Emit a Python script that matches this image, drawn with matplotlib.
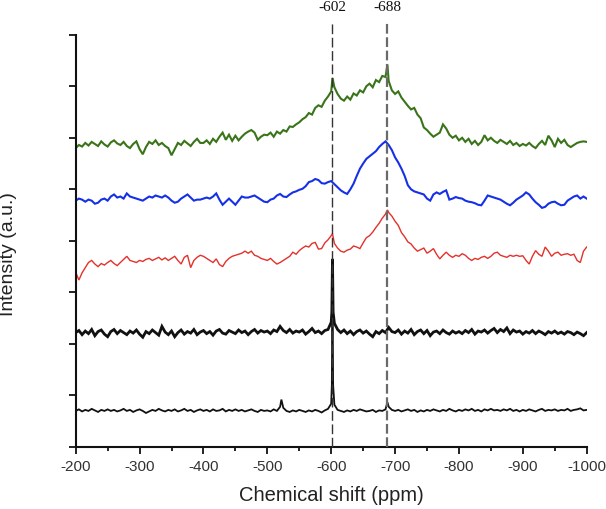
import numpy as np
import matplotlib
matplotlib.use("Agg")
import matplotlib.pyplot as plt
from matplotlib.ticker import MultipleLocator, FixedLocator, NullFormatter
import matplotlib.transforms as mtransforms

plt.rcParams['axes.unicode_minus'] = False
plt.rcParams['font.family'] = ['Liberation Sans', 'DejaVu Sans']

# ---------------- data ----------------
# common chemical-shift grid (ppm), 5 ppm step from -200 to -1000
shift = np.arange(-200, -1001, -5)

green = [
    5.80, 5.86, 5.83, 5.90, 5.85, 5.92, 5.88, 5.84, 5.93, 5.87,
    5.83, 5.91, 5.95, 5.89, 5.86, 5.92, 5.84, 5.80, 5.88, 5.93,
    5.78, 5.68, 5.82, 5.92, 5.88, 5.95, 5.86, 5.90, 5.84, 5.80,
    5.66, 5.78, 5.90, 5.86, 5.94, 5.89, 5.84, 5.92, 5.98, 5.90,
    5.90, 5.95, 5.88, 5.98, 5.92, 6.02, 6.10, 5.96, 6.06, 5.94,
    6.04, 5.95, 6.02, 6.08, 6.12, 6.15, 6.10, 5.96, 6.02, 6.06,
    6.05, 6.10, 6.02, 6.12, 6.08, 6.15, 6.12, 6.22, 6.21, 6.26,
    6.30, 6.36, 6.40, 6.48, 6.45, 6.58, 6.63, 6.60, 6.72, 6.80,
    6.90, 6.98, 6.85, 6.76, 6.72, 6.80, 6.74, 6.86, 6.82, 6.92,
    6.88, 7.00, 7.05, 6.98, 7.12, 7.08, 7.20, 7.18, 7.10, 6.92,
    6.85, 6.90, 6.78, 6.70, 6.62, 6.55, 6.58, 6.45, 6.38, 6.20,
    6.15, 6.08, 6.02, 6.06, 6.10, 6.26, 6.18, 6.06, 6.00, 6.04,
    5.95, 6.00, 5.92, 5.98, 5.88, 5.94, 5.86, 5.92, 6.05, 5.95,
    6.00, 5.94, 5.90, 5.96, 5.92, 5.88, 5.94, 5.86, 5.90, 5.84,
    5.88, 5.85, 5.90, 5.84, 5.80, 5.88, 5.94, 5.86, 6.04, 5.95,
    5.82, 5.98, 5.90, 5.96, 5.86, 5.82, 5.86, 5.90, 5.92, 5.93,
    5.92,
]
green_peak_x = [-602, -688]
green_peak_y = [7.16, 7.42]

blue = [
    4.78, 4.82, 4.80, 4.76, 4.80, 4.78, 4.72, 4.74, 4.80, 4.82,
    4.78, 4.86, 4.90, 4.84, 4.86, 4.82, 4.92, 4.86, 4.84, 4.82,
    4.80, 4.78, 4.82, 4.86, 4.84, 4.88, 4.86, 4.84, 4.88, 4.84,
    4.78, 4.74, 4.76, 4.82, 4.86, 4.90, 4.84, 4.78, 4.80, 4.80,
    4.82, 4.84, 4.82, 4.86, 4.92, 4.80, 4.70, 4.76, 4.82, 4.76,
    4.70, 4.78, 4.86, 4.84, 4.84, 4.86, 4.88, 4.84, 4.80, 4.76,
    4.75, 4.80, 4.82, 4.88, 4.91, 4.86, 4.85, 4.90, 4.94, 4.96,
    4.99, 5.01, 5.06, 5.14, 5.16, 5.20, 5.18, 5.12, 5.11, 5.14,
    5.16, 5.10, 5.04, 4.98, 4.94, 4.91, 5.00, 5.11, 5.26, 5.40,
    5.50, 5.59, 5.64, 5.69, 5.74, 5.82, 5.88, 5.93, 5.86, 5.76,
    5.62, 5.52, 5.40, 5.26, 5.08, 5.00, 4.96, 4.94, 4.92, 4.90,
    4.82, 4.78, 4.90, 4.94, 4.91, 4.95, 4.98, 4.80, 4.82, 4.85,
    4.83, 4.82, 4.78, 4.76, 4.75, 4.73, 4.70, 4.69, 4.78, 4.88,
    4.86, 4.84, 4.82, 4.80, 4.76, 4.72, 4.69, 4.74, 4.80, 4.84,
    4.88, 4.94, 4.90, 4.82, 4.75, 4.70, 4.64, 4.66, 4.72, 4.75,
    4.76, 4.72, 4.69, 4.70, 4.78, 4.82, 4.86, 4.88, 4.82, 4.86,
    4.82,
]

red = [
    3.39, 3.24, 3.38, 3.48, 3.58, 3.62, 3.55, 3.50, 3.56, 3.53,
    3.58, 3.62, 3.56, 3.52, 3.58, 3.64, 3.70, 3.62, 3.60, 3.58,
    3.62, 3.60, 3.64, 3.66, 3.62, 3.65, 3.68, 3.63, 3.67, 3.62,
    3.66, 3.70, 3.62, 3.55, 3.68, 3.72, 3.48, 3.62, 3.68, 3.72,
    3.70, 3.66, 3.62, 3.58, 3.65, 3.54, 3.50, 3.60, 3.66, 3.70,
    3.72, 3.74, 3.76, 3.80, 3.76, 3.80, 3.72, 3.70, 3.66, 3.64,
    3.62, 3.66, 3.60, 3.55, 3.58, 3.62, 3.66, 3.70, 3.78, 3.74,
    3.81, 3.86, 3.90, 3.88, 3.95, 3.97, 3.84, 3.85, 3.96, 4.02,
    4.10, 3.95, 3.86, 3.80, 3.78, 3.82, 3.84, 3.90, 3.88, 3.85,
    3.96, 4.06, 4.10, 4.17, 4.26, 4.34, 4.44, 4.52, 4.55, 4.48,
    4.38, 4.30, 4.16, 4.08, 3.98, 3.94, 3.86, 3.80, 3.83, 3.86,
    3.76, 3.80, 3.85, 3.74, 3.65, 3.72, 3.78, 3.72, 3.68, 3.72,
    3.70, 3.75, 3.72, 3.66, 3.62, 3.66, 3.64, 3.68, 3.70, 3.66,
    3.70, 3.76, 3.78, 3.72, 3.70, 3.68, 3.72, 3.70, 3.72, 3.70,
    3.71, 3.62, 3.55, 3.70, 3.81, 3.74, 3.70, 3.88, 3.80, 3.70,
    3.76, 3.78, 3.72, 3.74, 3.75, 3.72, 3.74, 3.62, 3.58, 3.80,
    3.88,
]
red_peak_x = [-602, -688]
red_peak_y = [4.14, 4.60]

black_upper = [
    2.22, 2.26, 2.18, 2.25, 2.20, 2.28, 2.16, 2.24, 2.27, 2.19,
    2.14, 2.24, 2.28, 2.20, 2.26, 2.22, 2.18, 2.25, 2.21, 2.27,
    2.19, 2.13, 2.24, 2.20, 2.27, 2.22, 2.17, 2.34, 2.23, 2.18,
    2.25, 2.14, 2.22, 2.27, 2.19, 2.24, 2.21, 2.28, 2.18, 2.23,
    2.26, 2.20, 2.24, 2.17, 2.25, 2.28, 2.21, 2.19, 2.26, 2.23,
    2.20, 2.27, 2.22, 2.25, 2.18, 2.24, 2.28, 2.21, 2.26, 2.23,
    2.25, 2.20, 2.27, 2.24, 2.34, 2.26, 2.22, 2.28, 2.21, 2.25,
    2.23, 2.27, 2.19, 2.24, 2.30, 2.22, 2.25, 2.20, 2.26, 2.28,
    2.42, 2.40, 2.28, 2.22, 2.27, 2.20, 2.25, 2.18, 2.24, 2.27,
    2.21, 2.25, 2.19, 2.14, 2.24, 2.20, 2.26, 2.22, 2.32, 2.24,
    2.22, 2.27, 2.19, 2.25, 2.21, 2.28, 2.18, 2.24, 2.27, 2.20,
    2.26, 2.16, 2.23, 2.25, 2.20, 2.27, 2.22, 2.19, 2.25, 2.21,
    2.24, 2.20, 2.26, 2.22, 2.28, 2.19, 2.25, 2.23, 2.27, 2.21,
    2.26, 2.30, 2.22, 2.28, 2.24, 2.31, 2.20, 2.27, 2.23, 2.25,
    2.19, 2.24, 2.21, 2.26, 2.20, 2.25, 2.22, 2.18, 2.24, 2.21,
    2.25, 2.20, 2.23, 2.19, 2.24, 2.22, 2.18, 2.23, 2.20, 2.16,
    2.22,
]
black_upper_peak_x = [-601, -602, -603]
black_upper_peak_y = [2.62, 3.65, 2.62]

black_lower = [
    0.70, 0.73, 0.69, 0.72, 0.70, 0.74, 0.71, 0.68, 0.72, 0.70,
    0.73, 0.70, 0.72, 0.69, 0.71, 0.74, 0.70, 0.72, 0.68, 0.71,
    0.73, 0.70, 0.66, 0.69, 0.72, 0.70, 0.74, 0.71, 0.69, 0.72,
    0.70, 0.73, 0.69, 0.71, 0.74, 0.70, 0.72, 0.68, 0.71, 0.73,
    0.70, 0.72, 0.69, 0.73, 0.70, 0.71, 0.74, 0.69, 0.72, 0.70,
    0.73, 0.70, 0.72, 0.69, 0.71, 0.73, 0.70, 0.68, 0.72, 0.70,
    0.71, 0.69, 0.73, 0.70, 0.78, 0.76, 0.70, 0.68, 0.71, 0.69,
    0.72, 0.70, 0.68, 0.71, 0.69, 0.72, 0.70, 0.67, 0.71, 0.74,
    0.84, 0.82, 0.72, 0.70, 0.68, 0.71, 0.69, 0.72, 0.70, 0.73,
    0.71, 0.69, 0.70, 0.72, 0.68, 0.71, 0.70, 0.73, 0.78, 0.72,
    0.70, 0.72, 0.69, 0.71, 0.73, 0.70, 0.72, 0.68, 0.71, 0.69,
    0.72, 0.70, 0.73, 0.71, 0.69, 0.72, 0.70, 0.74, 0.71, 0.69,
    0.72, 0.70, 0.73, 0.71, 0.74, 0.70, 0.72, 0.69, 0.73, 0.71,
    0.74, 0.71, 0.72, 0.70, 0.73, 0.71, 0.74, 0.70, 0.72, 0.69,
    0.72, 0.70, 0.73, 0.71, 0.69, 0.72, 0.74, 0.70, 0.72, 0.71,
    0.73, 0.70, 0.72, 0.71, 0.74, 0.70, 0.72, 0.73, 0.75, 0.71,
    0.72,
]
black_lower_peak_x = [-522, -601, -602, -603, -688]
black_lower_peak_y = [0.92, 1.20, 3.20, 1.20, 0.87]

marker_shifts = [-602, -688]
marker_labels = ["-602", "-688"]

x_ticks = [-200, -300, -400, -500, -600, -700, -800, -900, -1000]


def merged(base_y, extra_x=(), extra_y=()):
    xs = np.concatenate([shift, np.asarray(extra_x, dtype=float)])
    ys = np.concatenate([np.asarray(base_y, dtype=float), np.asarray(extra_y, dtype=float)])
    order = np.argsort(-xs)
    return xs[order], ys[order]


# ---------------- figure ----------------
fig = plt.figure(figsize=(6.06, 5.10), dpi=100)
ax = fig.add_axes([75.7 / 606, 1 - 448 / 510, (586.7 - 75.7) / 606, (448 - 35.7) / 510])

series = [
    (merged(black_lower, black_lower_peak_x, black_lower_peak_y), '#111111', 1.3),
    (merged(black_upper, black_upper_peak_x, black_upper_peak_y), '#111111', 2.0),
    (merged(red, red_peak_x, red_peak_y), '#e3312b', 1.0),
    (merged(blue), '#1530e6', 1.5),
    (merged(green, green_peak_x, green_peak_y), '#3a7419', 1.5),
]
for (xs, ys), c, lw in series:
    ax.plot(xs, ys, color=c, lw=lw, solid_joinstyle='miter')

ax.set_xlim(-200, -1000)
ax.set_ylim(0, 8)

trans = mtransforms.blended_transform_factory(ax.transData, ax.transAxes)
dash_styles = [('#333333', 1.0), ('#6a6a6a', 1.6)]
for xm, lab, (c, lw) in zip(marker_shifts, marker_labels, dash_styles):
    ax.plot([xm, xm], [0, 1.034], transform=trans, color=c, lw=lw,
            linestyle=(0, (7.0 / lw, 2.6 / lw)), clip_on=False, zorder=5)
    ax.text(xm, 1.0696, lab, transform=trans, ha='center', va='center',
            fontsize=11, family=['Liberation Serif', 'DejaVu Serif'], color='#111111')

for s in ['top', 'right']:
    ax.spines[s].set_visible(False)
for s in ['left', 'bottom']:
    ax.spines[s].set_linewidth(1.5)
    ax.spines[s].set_color('#111111')

ax.xaxis.set_major_locator(FixedLocator(x_ticks))
ax.xaxis.set_minor_locator(MultipleLocator(50))
ax.yaxis.set_major_locator(MultipleLocator(1))
ax.yaxis.set_major_formatter(NullFormatter())
ax.tick_params(axis='x', which='major', direction='out', length=5, width=1.3,
               labelsize=11, colors='#111111', labelcolor='#333333', pad=4)
ax.tick_params(axis='x', which='minor', direction='out', length=3, width=1.3, colors='#111111')
ax.tick_params(axis='y', which='major', direction='out', length=5, width=1.3, colors='#111111')
ax.set_xticklabels([str(t) for t in x_ticks])

ax.set_xlabel('Chemical shift (ppm)', fontsize=14.5, labelpad=8, color='#222222')
fig.text(9 / 606, 1 - 254 / 510, 'Intensity (a.u.)', rotation=90, ha='center', va='center',
         fontsize=14, color='#222222')

fig.savefig('out.png', dpi=100)
